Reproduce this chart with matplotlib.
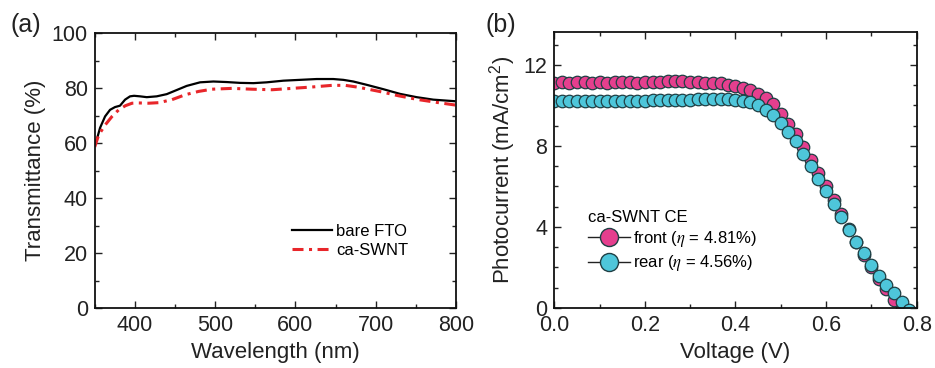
import matplotlib
matplotlib.use("Agg")
import matplotlib.pyplot as plt
from matplotlib.lines import Line2D
from matplotlib.ticker import MultipleLocator

plt.rcParams['font.family'] = ['Liberation Sans', 'DejaVu Sans']
plt.rcParams['mathtext.fontset'] = 'stix'
TXT = '#222222'

# ---------------- Panel (a) data ----------------
wl_fto = [350, 352.5, 356.6, 362.9, 369.1, 375.3, 381.5, 387.8, 394, 399, 406.5, 414.8,
          427.2, 439.7, 448, 464.6, 481.2, 497.8, 514.4, 531, 547.6, 564.2, 585, 605.7,
          626.5, 647.2, 659.7, 672.1, 688.7, 709.5, 730.2, 751, 771.7, 800]
t_fto = [59.5, 61.2, 65.5, 69.7, 72.1, 73.1, 73.6, 75.8, 77.0, 77.2, 77.0, 76.7,
         77.0, 77.8, 78.8, 80.8, 82.1, 82.4, 82.2, 81.9, 81.8, 82.1, 82.7, 83.0,
         83.3, 83.3, 83.0, 82.4, 81.2, 79.6, 77.9, 76.7, 75.8, 75.2]

wl_swnt = [350, 355, 363.3, 371.6, 379.9, 388.2, 396.5, 404.8, 417.2, 429.7, 446.3, 462.9,
           479.5, 496.1, 521, 545.9, 570.8, 595.7, 620.6, 645.5, 662.1, 678.7, 707.7,
           728.5, 753.4, 778.3, 800]
t_swnt = [58.6, 63.0, 66.7, 69.7, 72.1, 73.6, 74.5, 74.6, 74.5, 74.7, 75.8, 77.6,
          78.8, 79.6, 79.9, 79.6, 79.4, 79.9, 80.4, 81.0, 81.0, 80.3, 78.6,
          77.2, 75.8, 74.7, 73.8]

# ---------------- Panel (b) data ----------------
voltage = [0.000, 0.017, 0.033, 0.050, 0.067, 0.083, 0.100, 0.117, 0.133, 0.150,
           0.167, 0.183, 0.200, 0.217, 0.233, 0.250, 0.267, 0.283, 0.300, 0.317,
           0.333, 0.350, 0.367, 0.383, 0.400, 0.417, 0.433, 0.450, 0.467, 0.483,
           0.500, 0.517, 0.533, 0.550, 0.567, 0.583, 0.600, 0.617, 0.633, 0.650,
           0.667, 0.683, 0.700, 0.717, 0.733, 0.750, 0.767, 0.783]
j_front = [11.12, 11.13, 11.12, 11.13, 11.14, 11.12, 11.13, 11.12, 11.13, 11.14,
           11.13, 11.12, 11.14, 11.15, 11.16, 11.18, 11.21, 11.18, 11.16, 11.14,
           11.12, 11.11, 11.08, 11.02, 10.95, 10.87, 10.75, 10.58, 10.38, 10.05,
           9.55, 9.10, 8.60, 7.95, 7.30, 6.65, 6.00, 5.32, 4.66, 3.90,
           3.25, 2.62, 2.00, 1.42, 0.92, 0.42, -0.05]
v_front = voltage[:len(j_front)]
j_rear = [10.20, 10.20, 10.19, 10.20, 10.20, 10.21, 10.20, 10.21, 10.21, 10.22,
          10.22, 10.22, 10.23, 10.24, 10.24, 10.25, 10.26, 10.27, 10.28, 10.29,
          10.30, 10.31, 10.31, 10.30, 10.27, 10.22, 10.15, 10.02, 9.78, 9.50,
          9.12, 8.68, 8.22, 7.62, 7.00, 6.38, 5.75, 5.14, 4.50, 3.85,
          3.27, 2.69, 2.12, 1.58, 1.13, 0.72, 0.28, -0.12]

fig = plt.figure(figsize=(9.35, 3.68), dpi=100)

def style(ax):
    ax.tick_params(which='both', direction='in', top=True, right=True,
                   labelsize=15.5, colors=TXT, width=1.0)
    ax.tick_params(which='major', length=5, pad=5)
    ax.tick_params(which='minor', length=3)
    for s in ax.spines.values():
        s.set_linewidth(1.3)
        s.set_color('#111111')

# ---- (a)
ax1 = fig.add_axes([0.1013, 0.163, 0.3864, 0.747])
ax1.plot(wl_fto, t_fto, color='black', lw=1.6, label='bare FTO')
ax1.plot(wl_swnt, t_swnt, color='#e8262a', lw=2.2,
         linestyle=(0, (3.6, 1.8, 1.0, 1.8)), label='ca-SWNT')
ax1.set_xlim(350, 800)
ax1.set_ylim(0, 100)
ax1.xaxis.set_major_locator(MultipleLocator(100))
ax1.xaxis.set_minor_locator(MultipleLocator(50))
ax1.yaxis.set_major_locator(MultipleLocator(20))
ax1.yaxis.set_minor_locator(MultipleLocator(10))
style(ax1)
ax1.set_xlabel('Wavelength (nm)', fontsize=16, color=TXT, labelpad=4)
ax1.set_ylabel('Transmittance (%)', fontsize=16, color=TXT, labelpad=4)
ax1.legend(loc='upper left', bbox_to_anchor=(292/935, 1 - 224/368),
           bbox_transform=fig.transFigure, frameon=False, fontsize=12,
           handlelength=2.4, handletextpad=0.25, labelspacing=0.25,
           borderpad=0, borderaxespad=0)

# ---- (b)
ax2 = fig.add_axes([0.5928, 0.163, 0.3876, 0.749])
edge = '#1f3f44'
ax2.plot(v_front, j_front, linestyle='none', marker='o', markersize=9,
         mfc='#e53f8e', mec=edge, mew=0.9, label='front')
ax2.plot(voltage, j_rear, linestyle='none', marker='o', markersize=9,
         mfc='#4ec6da', mec=edge, mew=0.9, label='rear')
ax2.set_xlim(0, 0.8)
ax2.set_ylim(0, 13.6)
ax2.xaxis.set_major_locator(MultipleLocator(0.2))
ax2.xaxis.set_minor_locator(MultipleLocator(0.1))
ax2.yaxis.set_major_locator(MultipleLocator(4))
ax2.yaxis.set_minor_locator(MultipleLocator(1))
ax2.xaxis.set_major_formatter(matplotlib.ticker.FormatStrFormatter('%.1f'))
style(ax2)
ax2.set_xlabel('Voltage (V)', fontsize=16, color=TXT, labelpad=4)
ax2.set_ylabel('Photocurrent (mA/cm$^\\mathregular{2}$)', fontsize=16, color=TXT, labelpad=4)

handles = [Line2D([], [], color='#222222', lw=1.0, marker='o', markersize=13,
                  mfc='#e53f8e', mec=edge, mew=1.0),
           Line2D([], [], color='#222222', lw=1.0, marker='o', markersize=13,
                  mfc='#4ec6da', mec=edge, mew=1.0)]
labels = ['front ($\\eta$ = 4.81%)', 'rear ($\\eta$ = 4.56%)']
leg = ax2.legend(handles, labels, loc='upper left',
                 bbox_to_anchor=(588/935, 1 - 210/368),
                 bbox_transform=fig.transFigure, frameon=False, fontsize=12,
                 title='ca-SWNT CE', title_fontsize=12, alignment='left',
                 handlelength=2.5, handletextpad=0.2, labelspacing=0.25,
                 borderpad=0, borderaxespad=0)

fig.text(26/935, 1 - 25/368, '(a)', fontsize=18, color=TXT, ha='center', va='center')
fig.text(501/935, 1 - 25/368, '(b)', fontsize=18, color=TXT, ha='center', va='center')

fig.savefig('out.png', dpi=100)
